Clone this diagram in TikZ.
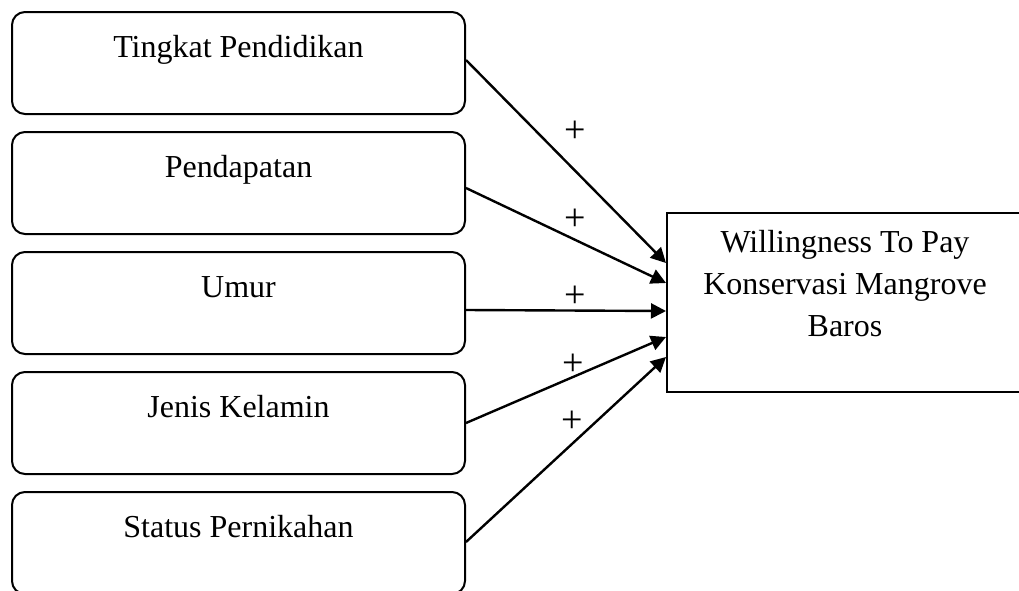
\documentclass[tikz,border=0pt]{standalone}
\usepackage{fontspec}
\setmainfont{Liberation Serif}
\usetikzlibrary{calc,arrows.meta}
\begin{document}
\begin{tikzpicture}[x=0.5pt,y=-0.5pt,
  factor/.style={draw=black, line width=1pt, rounded corners=6.5pt,
    minimum width=226.5pt, minimum height=51pt, inner sep=0pt,
    text height=6pt, text depth=12pt,
    font=\fontsize{16}{21}\selectfont},
  outcome/.style={draw=black, line width=1pt, minimum width=178pt,
    minimum height=89.5pt, inner sep=0pt},
  outtext/.style={align=center, inner sep=0pt, font=\fontsize{16}{21}\selectfont},
  sign/.style={inner sep=0pt, font=\fontsize{19}{21}\selectfont},
  arr/.style={line width=1.2pt, -{Triangle[length=7.5pt,width=7.5pt]}}]
\useasboundingbox (0,0) rectangle (1019,590);
\node[factor] (b1) at (238.5,63) {Tingkat Pendidikan};
\node[factor] (b2) at (238.5,183) {Pendapatan};
\node[factor] (b3) at (238.5,303) {Umur};
\node[factor] (b4) at (238.5,423) {Jenis Kelamin};
\node[factor] (b5) at (238.5,543) {Status Pernikahan};
\node[outcome] (wtp) at (845,302.5) {};
\node[outtext, anchor=north] (wtpt) at (845,230) {Willingness To Pay\\Konservasi Mangrove\\Baros};
\draw[arr] ($(b1.east)+(0,-3)$) -- ($(wtp.west)+(0,-39.5)$);
\draw[arr] ($(b2.east)+(0,5)$) -- ($(wtp.west)+(0,-19.5)$);
\draw[arr] ($(b3.east)+(0,7)$) -- ($(wtp.west)+(0,8.5)$);
\draw[arr] (b4.east) -- ($(wtp.west)+(0,34.5)$);
\draw[arr] ($(b5.east)+(0,-1)$) -- ($(wtp.west)+(0,54.5)$);
\node[sign] (p1) at (575,132) {+};
\node[sign] (p2) at (575,220) {+};
\node[sign] (p3) at (575,297) {+};
\node[sign] (p4) at (573,365) {+};
\node[sign] (p5) at (572,422) {+};
\end{tikzpicture}
\end{document}
